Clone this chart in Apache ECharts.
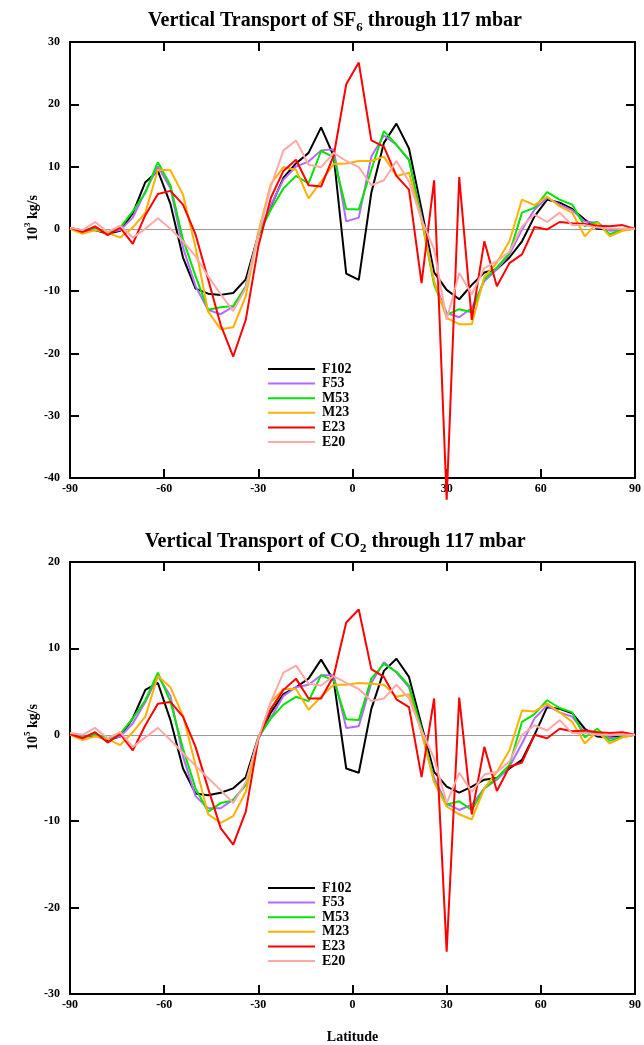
<!DOCTYPE html>
<html>
<head>
<meta charset="utf-8">
<script src="https://cdn.jsdelivr.net/npm/echarts@6/dist/echarts.min.js"></script>
<style>
  html, body { margin: 0; padding: 0; background: #fff; }
  #chart { width: 644px; height: 1045px; }
</style>
</head>
<body>
<div id="chart"></div>
<script>
const lats = [-90, -86, -82, -78, -74, -70, -66, -62, -58, -54,
              -50, -46, -42, -38, -34, -30, -26, -22, -18, -14,
              -10, -6, -2, 2, 6, 10, 14, 18, 22, 26,
              30, 34, 38, 42, 46, 50, 54, 58, 62, 66,
              70, 74, 78, 82, 86, 90];
const names = ['F102', 'F53', 'M53', 'M23', 'E23', 'E20'];
const colors = ['#000000', '#b469ff', '#00e600', '#ffb000', '#ff0000', '#ffa8a8'];

// SF6, 10^3 kg/s
const sf6F102 = [0.2, -0.3, -0.2, -0.8, -0.3, 2.5, 7.5, 9.3, 4.0, -4.6,
                 -9.6, -10.4, -10.6, -10.3, -8.1, -1.0, 3.6, 8.2, 10.5, 12.2,
                 16.3, 11.7, -7.2, -8.2, 5.8, 13.8, 16.9, 12.9, 3.1, -7.0,
                 -9.8, -11.3, -9.0, -7.0, -6.5, -4.6, -2.0, 2.0, 4.7, 4.2,
                 3.2, 1.5, 0.0, -0.1, -0.1, 0.0];
const sf6F53 = [0, -0.3, 0, -0.6, -0.2, 1.8, 6.0, 10.0, 6.5, -3.0,
                -9.2, -13.0, -13.7, -12.5, -9.2, -0.8, 3.8, 7.9, 10.0, 10.8,
                12.6, 12.8, 1.2, 1.8, 11.6, 15.0, 13.5, 11.0, 2.0, -8.5,
                -13.5, -14.2, -12.7, -8.4, -6.5, -4.1, -0.1, 3.1, 5.0, 3.9,
                3.0, 1.2, 1.0, -0.3, -0.2, 0];
const sf6M53 = [0, -0.3, 0.2, -0.7, 0.2, 2.8, 5.8, 10.7, 7.0, -1.7,
                -7.6, -13.0, -12.6, -12.4, -9.3, -1.0, 3.1, 6.5, 8.5, 7.3,
                12.5, 11.5, 3.2, 3.1, 9.5, 15.7, 13.5, 11.1, 1.5, -9.0,
                -13.8, -12.9, -13.4, -8.1, -6.2, -3.9, 2.6, 3.4, 5.9, 4.7,
                3.9, 0.4, 1.1, -0.9, 0, 0];
const sf6M23 = [0, -0.8, -0.2, -0.6, -1.4, 0.2, 2.6, 9.5, 9.4, 5.5,
                -3.0, -13.3, -16.1, -15.8, -10.8, -0.5, 7.2, 9.9, 9.5, 4.9,
                7.6, 10.4, 10.5, 10.9, 10.9, 11.6, 8.5, 9.0, 1.5, -8.5,
                -14.3, -15.3, -15.3, -7.7, -5.4, -2.0, 4.7, 3.8, 5.2, 3.6,
                2.6, -1.2, 1.0, -1.2, -0.3, 0];
const sf6E23 = [0.2, -0.5, 0.4, -1.0, 0.2, -2.4, 2.2, 5.6, 6.1, 3.9,
                -0.9, -8.1, -15.4, -20.5, -14.6, -2.8, 5.0, 9.3, 11.1, 7.0,
                6.8, 11.7, 23.2, 26.7, 14.2, 13.2, 8.5, 6.3, -8.7, 7.8,
                -43.5, 8.3, -14.6, -2.0, -9.2, -5.5, -4.1, 0.3, -0.1, 1.1,
                0.9, 0.8, 0.5, 0.4, 0.6, 0];
const sf6E20 = [0.2, -0.2, 1.1, -0.5, 0.5, -1.4, 0, 1.7, 0, -2.0,
                -4.4, -7.6, -10.5, -13.2, -9.5, -1.0, 6.8, 12.6, 14.2, 10.3,
                9.9, 12.2, 10.9, 9.9, 7.0, 7.8, 10.9, 7.6, 1.5, -3.3,
                -14.6, -7.1, -10.5, -6.3, -5.2, -3.7, 0.4, 2.3, 1.1, 2.6,
                0.6, 0.6, 0.2, 0, 0, 0];

// CO2, 10^5 kg/s
const co2F102 = [0.1, -0.2, -0.1, -0.6, -0.2, 1.9, 5.2, 6.0, 1.7, -3.9,
                 -6.8, -7.0, -6.7, -6.2, -4.9, -0.3, 2.6, 4.7, 5.5, 6.5,
                 8.7, 6.3, -3.9, -4.4, 3.0, 7.4, 8.8, 6.7, 1.1, -4.3,
                 -6.0, -6.7, -6.0, -5.2, -5.0, -3.9, -2.9, 0, 3.2, 3.0,
                 2.5, 0.7, -0.2, -0.3, -0.2, 0];
const co2F53 = [0, -0.2, 0, -0.5, -0.2, 1.3, 3.8, 6.8, 4.5, -2.5,
                -7.1, -8.5, -8.5, -7.5, -5.8, -0.3, 2.0, 4.5, 5.5, 5.8,
                6.9, 6.9, 0.8, 1.0, 6.0, 8.4, 7.2, 5.5, 0.3, -5.0,
                -8.0, -8.7, -8.1, -6.2, -5.2, -3.7, -1.0, 1.9, 3.4, 2.6,
                2.1, 0.2, 0.2, -0.4, -0.3, 0];
const co2M53 = [0, -0.3, 0.1, -0.4, 0.1, 1.9, 4.0, 7.2, 3.8, -1.6,
                -6.2, -8.9, -7.9, -7.6, -5.8, -0.3, 1.9, 3.5, 4.4, 3.9,
                6.9, 6.3, 1.8, 1.7, 6.5, 8.2, 7.3, 5.7, 0.7, -5.4,
                -8.1, -7.7, -8.7, -6.2, -5.0, -3.5, 1.5, 2.4, 4.0, 3.1,
                2.6, -0.3, 0.7, -0.7, -0.2, 0];
const co2M23 = [0, -0.6, -0.2, -0.5, -1.2, 0.3, 2.1, 6.8, 5.5, 2.2,
                -3.5, -9.2, -10.2, -9.4, -6.6, -0.5, 3.8, 5.3, 5.3, 2.9,
                4.4, 5.8, 5.8, 6.0, 5.9, 5.8, 4.4, 4.7, 0.3, -5.5,
                -8.3, -9.2, -9.8, -6.2, -4.3, -1.8, 2.8, 2.7, 3.6, 2.6,
                1.5, -1.0, 0.4, -1.0, -0.3, 0];
const co2E23 = [0.1, -0.4, 0.3, -0.9, 0.1, -1.8, 1.1, 3.6, 3.8, 2.1,
                -1.4, -6.2, -10.8, -12.7, -8.9, -0.5, 3.0, 5.2, 6.5, 4.2,
                4.2, 6.8, 13.0, 14.5, 7.6, 6.7, 4.1, 3.2, -4.9, 4.2,
                -25.1, 4.3, -9.2, -1.4, -6.5, -3.7, -3.2, 0, -0.4, 0.7,
                0.4, 0.5, 0.3, 0.2, 0.3, 0];
const co2E20 = [0.2, 0, 0.8, -0.4, 0.3, -1.4, -0.3, 0.8, -0.6, -2.1,
                -3.6, -5.0, -6.4, -7.9, -5.5, -0.4, 3.8, 7.2, 8.0, 5.9,
                5.7, 6.8, 6.0, 5.3, 3.9, 4.2, 5.8, 4.2, 0.5, -2.7,
                -7.9, -4.4, -6.6, -4.6, -4.3, -3.1, 0, 1.1, 0.5, 1.7,
                0.2, 0.2, 0, 0, 0, 0];

const sf6Sets = [sf6F102, sf6F53, sf6M53, sf6M23, sf6E23, sf6E20];
const co2Sets = [co2F102, co2F53, co2M53, co2M23, co2E23, co2E20];

const serif = '"Liberation Serif", "Times New Roman", serif';

const chart = echarts.init(document.getElementById('chart'), null, { renderer: 'canvas' });

// box frame: labelled axis + mirrored axis with inward ticks
function frameAxes(gridIndex, isY, min, max) {
    const base = {
        gridIndex: gridIndex,
        type: 'value',
        min: min,
        max: max,
        interval: isY ? 10 : 30,
        splitLine: { show: false },
        axisLine: { show: true, onZero: false, lineStyle: { color: '#000', width: 2 } },
        axisTick: { show: true, inside: true, length: 9, lineStyle: { color: '#000', width: 2 } }
    };
    const a = Object.assign({}, base, {
        position: isY ? 'left' : 'bottom',
        axisLabel: {
            show: true,
            color: '#000',
            fontFamily: serif,
            fontWeight: 'bold',
            fontSize: 12,
            margin: isY ? 10 : 5
        }
    });
    const b = Object.assign({}, base, {
        position: isY ? 'right' : 'top',
        axisLabel: { show: false }
    });
    return [a, b];
}

function buildSeries(sets, xIdx, yIdx) {
    return sets.map((vals, k) => {
        const s = {
            type: 'line',
            name: names[k],
            xAxisIndex: xIdx,
            yAxisIndex: yIdx,
            data: lats.map((lat, i) => [lat, vals[i]]),
            symbol: 'none',
            showSymbol: false,
            clip: false,
            lineStyle: { width: 2, color: colors[k] },
            itemStyle: { color: colors[k] },
            z: 3
        };
        if (k === 0) {
            s.markLine = {
                silent: true,
                symbol: 'none',
                label: { show: false },
                lineStyle: { color: '#999', width: 1, type: 'solid' },
                data: [{ yAxis: 0 }],
                z: 1
            };
        }
        return s;
    });
}

const legendBase = {
    orient: 'vertical',
    left: 268,
    icon: 'rect',
    itemWidth: 47,
    itemHeight: 2,
    itemGap: 0.6,
    padding: 0,
    selectedMode: false,
    data: names,
    textStyle: { fontFamily: serif, fontWeight: 'bold', fontSize: 14, lineHeight: 14, color: '#000', padding: [0, 0, 0, 2] }
};

const titleRich = {
    s: { fontFamily: serif, fontWeight: 'bold', fontSize: 13, lineHeight: 13, verticalAlign: 'bottom', color: '#000' }
};

const topX = frameAxes(0, false, -90, 90);
const topY = frameAxes(0, true, -40, 30);
const botX = frameAxes(1, false, -90, 90);
const botY = frameAxes(1, true, -30, 20);
botX[0].name = 'Latitude';
botX[0].nameLocation = 'middle';
botX[0].nameGap = 36;
botX[0].nameTextStyle = { fontFamily: serif, fontWeight: 'bold', fontSize: 14, color: '#000' };

function yName(y, exp) {
    return {
        type: 'text',
        x: 33,
        y: y,
        rotation: Math.PI / 2,
        style: {
            text: '10{sup|' + exp + '} kg/s',
            fontFamily: serif,
            fontWeight: 'bold',
            fontSize: 14,
            lineHeight: 20,
            fill: '#000',
            align: 'center',
            verticalAlign: 'middle',
            rich: {
                sup: { fontFamily: serif, fontWeight: 'bold', fontSize: 9, lineHeight: 9, verticalAlign: 'top', fill: '#000' }
            }
        }
    };
}

const option = {
    animation: false,
    backgroundColor: '#fff',
    title: [
        {
            text: 'Vertical Transport of SF{s|6} through 117 mbar',
            left: 148,
            top: 8,
            padding: 0,
            textStyle: { fontFamily: serif, fontWeight: 'bold', fontSize: 20, lineHeight: 26, color: '#000', rich: titleRich }
        },
        {
            text: 'Vertical Transport of CO{s|2} through 117 mbar',
            left: 145,
            top: 529,
            padding: 0,
            textStyle: { fontFamily: serif, fontWeight: 'bold', fontSize: 20, lineHeight: 26, color: '#000', rich: titleRich }
        }
    ],
    legend: [
        Object.assign({}, legendBase, { top: 362 }),
        Object.assign({}, legendBase, { top: 881 })
    ],
    grid: [
        { left: 70, top: 42, width: 567, height: 436 },
        { left: 70, top: 562, width: 567, height: 435 }
    ],
    xAxis: [topX[0], topX[1], botX[0], botX[1]],
    yAxis: [topY[0], topY[1], botY[0], botY[1]],
    graphic: [yName(218, 3), yName(727, 5)],
    series: [].concat(buildSeries(sf6Sets, 0, 0), buildSeries(co2Sets, 2, 2))
};

chart.setOption(option);
</script>
</body>
</html>
